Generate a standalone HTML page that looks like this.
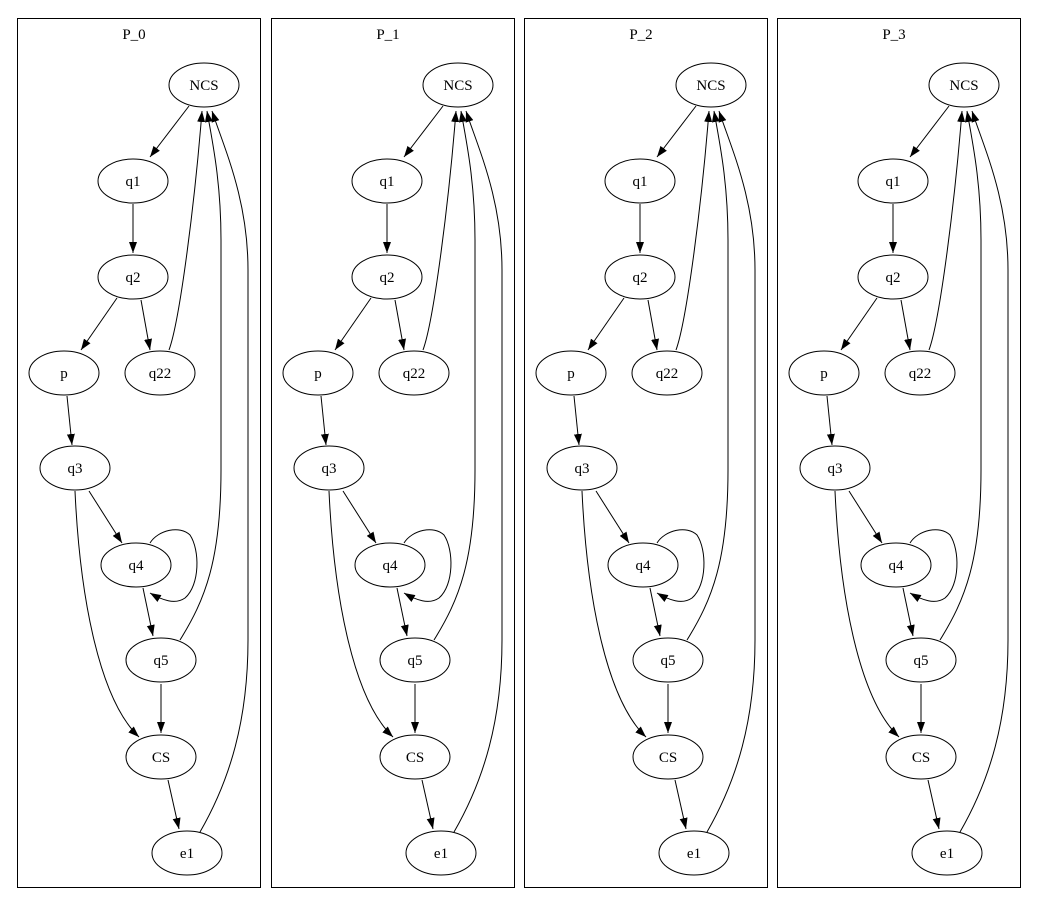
<!DOCTYPE html>
<html><head><meta charset="utf-8"><style>
html,body{margin:0;padding:0;background:#fff;}
svg{display:block;}
text{font-family:"Liberation Serif",serif;font-size:15px;fill:#000;}
</style></head><body>
<svg width="1037" height="915" viewBox="0 0 1037 915" xmlns="http://www.w3.org/2000/svg">
<defs>
<marker id="a" markerUnits="userSpaceOnUse" markerWidth="13" markerHeight="10" refX="11" refY="4" orient="auto"><path d="M0,0 L11,4 L0,8 z" fill="#000"/></marker>
</defs>
<rect width="1037" height="915" fill="#fff"/>
<g id="g0" fill="none" stroke="#000" stroke-width="1">
<rect x="17.5" y="18.5" width="243" height="869"/>
<ellipse cx="204" cy="85" rx="35" ry="22"/>
<ellipse cx="133" cy="181" rx="35" ry="22"/>
<ellipse cx="133" cy="277" rx="35" ry="22"/>
<ellipse cx="64" cy="373" rx="35" ry="22"/>
<ellipse cx="160" cy="373" rx="35" ry="22"/>
<ellipse cx="75" cy="468" rx="35" ry="22"/>
<ellipse cx="136" cy="565" rx="35" ry="22"/>
<ellipse cx="161" cy="660" rx="35" ry="22"/>
<ellipse cx="161" cy="757" rx="35" ry="22"/>
<ellipse cx="187" cy="853" rx="35" ry="22"/>
<g marker-end="url(#a)">
<path d="M189,106 L150,157"/>
<path d="M133,204 L133,253"/>
<path d="M117,298 L81,350"/>
<path d="M141,300 L150,350"/>
<path d="M67,396 L72,445"/>
<path d="M169,350 C180,320 195,200 202,111"/>
<path d="M180,640 C205,600 221,560 221,470 L221,240 C221,180 212,140 207,111"/>
<path d="M200,832 C230,780 248,720 248,640 L248,270 C248,200 225,150 212,111"/>
<path d="M89,491 L122,543"/>
<path d="M75,491 C80,600 100,700 139,737"/>
<path d="M150,543 C158,530 180,525 190,535 C200,550 200,585 185,598 C175,605 162,600 150,593"/>
<path d="M143,588 L153,636"/>
<path d="M161,684 L161,733"/>
<path d="M168,780 L179,829"/>
</g>
</g>
<g fill="#000" text-anchor="middle">
<text x="134" y="39">P_0</text><text x="204" y="90">NCS</text><text x="133" y="186">q1</text><text x="133" y="282">q2</text><text x="64" y="378">p</text><text x="160" y="378">q22</text><text x="75" y="473">q3</text><text x="136" y="570">q4</text><text x="161" y="665">q5</text><text x="161" y="762">CS</text><text x="187" y="858">e1</text>
</g>
<use href="#g0" x="254"/>
<g fill="#000" text-anchor="middle" transform="translate(254,0)">
<text x="134" y="39">P_1</text><text x="204" y="90">NCS</text><text x="133" y="186">q1</text><text x="133" y="282">q2</text><text x="64" y="378">p</text><text x="160" y="378">q22</text><text x="75" y="473">q3</text><text x="136" y="570">q4</text><text x="161" y="665">q5</text><text x="161" y="762">CS</text><text x="187" y="858">e1</text>
</g>
<use href="#g0" x="507"/>
<g fill="#000" text-anchor="middle" transform="translate(507,0)">
<text x="134" y="39">P_2</text><text x="204" y="90">NCS</text><text x="133" y="186">q1</text><text x="133" y="282">q2</text><text x="64" y="378">p</text><text x="160" y="378">q22</text><text x="75" y="473">q3</text><text x="136" y="570">q4</text><text x="161" y="665">q5</text><text x="161" y="762">CS</text><text x="187" y="858">e1</text>
</g>
<use href="#g0" x="760"/>
<g fill="#000" text-anchor="middle" transform="translate(760,0)">
<text x="134" y="39">P_3</text><text x="204" y="90">NCS</text><text x="133" y="186">q1</text><text x="133" y="282">q2</text><text x="64" y="378">p</text><text x="160" y="378">q22</text><text x="75" y="473">q3</text><text x="136" y="570">q4</text><text x="161" y="665">q5</text><text x="161" y="762">CS</text><text x="187" y="858">e1</text>
</g>
</svg>
</body></html>
